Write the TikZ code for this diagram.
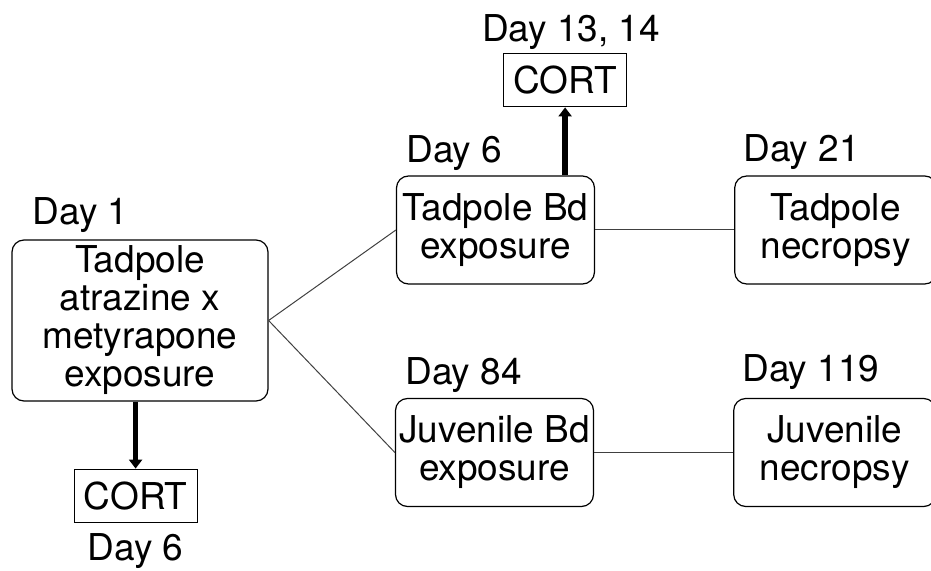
\documentclass[tikz,border=0pt]{standalone}
\usepackage{fontspec}
\setmainfont{TeX Gyre Heros}
\usetikzlibrary{arrows.meta,positioning}

\begin{document}
\begin{tikzpicture}[
  x=0.5pt, y=-0.5pt,
  font=\fontsize{18.5}{19}\selectfont,
  stage/.style={draw, rounded corners=6pt, align=center, inner sep=0pt,
                line width=0.6pt, minimum width=99pt, minimum height=54pt},
  cort/.style={draw, align=center, inner sep=0pt, line width=0.5pt,
               minimum width=61.5pt, minimum height=26.5pt},
  day/.style={anchor=base west, inner sep=0pt},
  link/.style={draw=black!75, line width=0.5pt},
  sample/.style={line width=2.8pt, -{Triangle[width=6.5pt,length=4.5pt]}},
]
\useasboundingbox (0,0) rectangle (931,571);
% left branch
\node[stage, minimum width=128pt, minimum height=80.5pt] (atz) at (140,320.5)
  {Tadpole\\atrazine x\\metyrapone\\exposure};
\node[cort, below=33.5pt of atz, xshift=-2.2pt] (cortA) {CORT};
% infection arms
\node[stage] (tbd) at (495.5,230) {Tadpole Bd\\exposure};
\node[stage] (jbd) at (494.5,452.5) {Juvenile Bd\\exposure};
\node[stage, right=69.5pt of tbd, minimum width=101pt] (tnec) {Tadpole\\necropsy};
\node[stage, right=69.5pt of jbd, minimum width=101pt] (jnec) {Juvenile\\necropsy};
\node[cort, above=34pt of tbd, xshift=34.8pt] (cortB) {CORT};
% time points
\node[day] at ([xshift=10.5pt,yshift=7.5pt]atz.north west) {Day 1};
\node[day] at ([xshift=5pt,yshift=6.5pt]tbd.north west) {Day 6};
\node[day] at ([xshift=5pt,yshift=6.5pt]jbd.north west) {Day 84};
\node[day] at ([xshift=4.5pt,yshift=7pt]tnec.north west) {Day 21};
\node[day] at ([xshift=4.5pt,yshift=8pt]jnec.north west) {Day 119};
\node[anchor=base, inner sep=0pt] at ([xshift=3pt,yshift=6pt]cortB.north) {Day 13, 14};
\node[anchor=north, inner sep=0pt] at ([yshift=-5.5pt]cortA.south) {Day 6};
% connectors
\draw[link] (atz.east) -- (tbd.west);
\draw[link] (atz.east) -- (jbd.west);
\draw[link] (tbd.east) -- (tnec.west);
\draw[link] (jbd.east) -- (jnec.west);
\draw[sample] (atz.south -| cortA.north) -- (cortA.north);
\draw[sample] (tbd.north -| cortB.south) -- (cortB.south);
\end{tikzpicture}
\end{document}
